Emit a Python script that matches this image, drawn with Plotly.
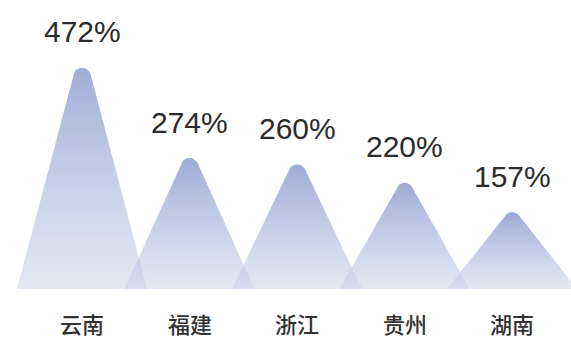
import math
import plotly.graph_objects as go

# ---- data ----
categories = ["云南", "福建", "浙江", "贵州", "湖南"]
values = [472, 274, 260, 220, 157]
value_labels = ["472%", "274%", "260%", "220%", "157%"]

# ---- layout constants (pixels) ----
W, H = 571, 338
PX_PER_CAT = 107.5       # horizontal spacing between peaks
FIRST_CENTER_PX = 82     # pixel x of first peak
BASELINE_PX = 289        # pixel y (from top) of baseline
PX_PER_UNIT = 0.525      # vertical pixels per percent
HALF_BASE_PX = 65        # half width of each mountain base
TIP_RADIUS_PX = 9        # rounding of the peaks
LABEL_GAP_PX = 36        # gap between visible peak top and value label center

x_range = [-FIRST_CENTER_PX / PX_PER_CAT, (W - FIRST_CENTER_PX) / PX_PER_CAT]
y_range = [-(H - BASELINE_PX) / PX_PER_UNIT, BASELINE_PX / PX_PER_UNIT]

TOP_COLOR = "rgba(121,140,199,0.8)"
BOT_COLOR = "rgba(201,209,233,0.5)"


def mountain(i, v):
    hp = v * PX_PER_UNIT
    w = HALF_BASE_PX
    r = TIP_RADIUS_PX
    theta = math.atan2(w, hp)           # half angle at apex
    d = r / math.sin(theta)             # apex -> circle center distance
    cy = hp - d
    a0 = math.atan2(w, hp)              # angle of right tangent point
    pts = [(-w, 0.0)]
    n = 16
    for k in range(n + 1):
        a = (math.pi - a0) - (math.pi - 2 * a0) * k / n
        pts.append((r * math.cos(a), cy + r * math.sin(a)))
    pts.append((w, 0.0))
    pts.append((-w, 0.0))
    xs = [i + px / PX_PER_CAT for px, _ in pts]
    ys = [py / PX_PER_UNIT for _, py in pts]
    drop = d - r
    return xs, ys, drop


fig = go.Figure()
annotations = []
for i, (cat, v, lab) in enumerate(zip(categories, values, value_labels)):
    xs, ys, drop = mountain(i, v)
    fig.add_trace(go.Scatter(
        x=xs, y=ys, mode="lines", fill="toself",
        line=dict(width=0, color="rgba(0,0,0,0)"),
        fillgradient=dict(type="vertical", start=0, stop=v,
                          colorscale=[[0, BOT_COLOR], [1, TOP_COLOR]]),
        hoverinfo="skip", showlegend=False,
    ))
    annotations.append(dict(
        x=i, y=v, xref="x", yref="y", text=lab, showarrow=False,
        yshift=-drop + LABEL_GAP_PX, yanchor="middle",
        font=dict(family="Liberation Sans, Arial, sans-serif", size=30, color="#2b2b2b"),
    ))
    annotations.append(dict(
        x=i, y=0, xref="x", yref="y", text=cat, showarrow=False,
        yshift=-34, yanchor="middle",
        font=dict(family="Noto Sans CJK SC, sans-serif", size=22, color="#333333",
                  weight=500),
    ))

fig.update_layout(
    width=W, height=H,
    margin=dict(l=0, r=0, t=0, b=0),
    paper_bgcolor="white", plot_bgcolor="white",
    xaxis=dict(range=x_range, visible=False, fixedrange=True),
    yaxis=dict(range=y_range, visible=False, fixedrange=True),
    annotations=annotations,
)

fig.write_html("out.html")
